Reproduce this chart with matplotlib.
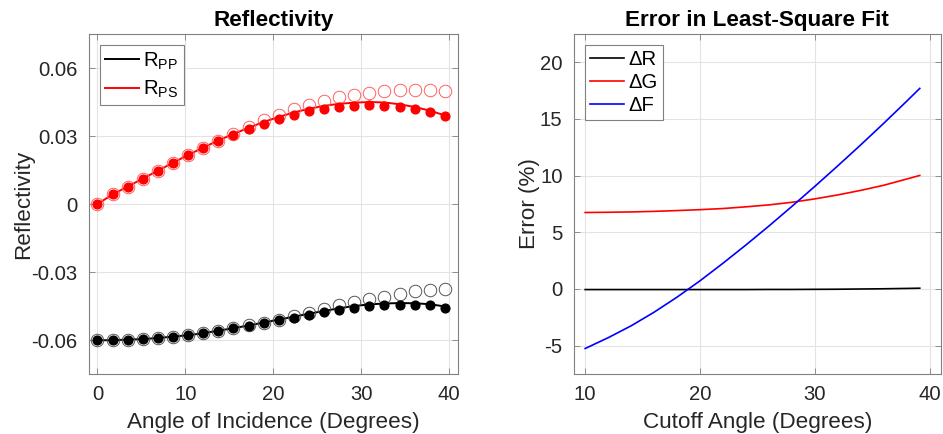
import matplotlib
matplotlib.use("Agg")
import matplotlib.pyplot as plt

plt.rcParams['font.family'] = ['Liberation Sans', 'DejaVu Sans']
plt.rcParams['axes.unicode_minus'] = False
plt.rcParams['mathtext.fontset'] = 'custom'
plt.rcParams['mathtext.rm'] = 'Liberation Sans'

# left panel: reflectivity vs angle of incidence
angle = [0, 1.72, 3.44, 5.16, 6.88, 8.59, 10.31, 12.03, 13.75, 15.47, 17.19, 18.91,
         20.63, 22.35, 24.06, 25.78, 27.50, 29.22, 30.94, 32.66, 34.38, 36.10, 37.82, 39.53]

rps_line = [0, 0.0042, 0.0077, 0.0112, 0.0147, 0.0182, 0.0216, 0.0249, 0.0280, 0.0309, 0.0336, 0.0362,
            0.0384, 0.0404, 0.0420, 0.0433, 0.0442, 0.0447, 0.0450, 0.0448, 0.0440, 0.0428, 0.0412, 0.0391]
rps_fit = [0, 0.0042, 0.0076, 0.0111, 0.0146, 0.0181, 0.0215, 0.0248, 0.0277, 0.0305, 0.0331, 0.0355,
           0.0375, 0.0394, 0.0409, 0.0421, 0.0428, 0.0434, 0.0435, 0.0432, 0.0426, 0.0418, 0.0406, 0.0388]
rps_approx = [0, 0.0042, 0.0077, 0.0112, 0.0147, 0.0182, 0.0216, 0.0249, 0.0280, 0.0311, 0.0340, 0.0369,
              0.0394, 0.0419, 0.0438, 0.0456, 0.0471, 0.0482, 0.0491, 0.0499, 0.0501, 0.0501, 0.0501, 0.0499]

rpp_line = [-0.0601, -0.0601, -0.0598, -0.0596, -0.0591, -0.0585, -0.0579, -0.0570, -0.0559, -0.0548, -0.0536, -0.0523,
            -0.0510, -0.0497, -0.0484, -0.0472, -0.0460, -0.0450, -0.0443, -0.0439, -0.0437, -0.0438, -0.0442, -0.0452]
rpp_fit = [-0.0601, -0.0601, -0.0598, -0.0596, -0.0591, -0.0585, -0.0579, -0.0570, -0.0559, -0.0548, -0.0537, -0.0525,
           -0.0513, -0.0501, -0.0488, -0.0477, -0.0466, -0.0457, -0.0452, -0.0447, -0.0444, -0.0444, -0.0447, -0.0457]
rpp_approx = [-0.0601, -0.0601, -0.0598, -0.0596, -0.0591, -0.0585, -0.0579, -0.0570, -0.0559, -0.0548, -0.0536, -0.0523,
              -0.0510, -0.0494, -0.0479, -0.0463, -0.0447, -0.0433, -0.0421, -0.0409, -0.0396, -0.0385, -0.0378, -0.0374]

refl_ticks = [-0.06, -0.03, 0, 0.03, 0.06]
refl_ticklabels = ['-0.06', '-0.03', '0', '0.03', '0.06']

# right panel: error vs cutoff angle
cutoff = [10, 12, 14, 16, 18, 20, 22, 24, 26, 28, 30, 32, 34, 36, 38, 39.15]
err_r = [-0.05, -0.05, -0.05, -0.05, -0.05, -0.05, -0.05, -0.05, -0.04, -0.04, -0.03, -0.02, 0.0, 0.02, 0.05, 0.07]
err_g = [6.75, 6.77, 6.80, 6.85, 6.92, 7.00, 7.10, 7.25, 7.42, 7.65, 7.95, 8.30, 8.70, 9.15, 9.70, 10.02]
err_f = [-5.25, -4.30, -3.25, -2.05, -0.72, 0.72, 2.27, 3.88, 5.55, 7.28, 9.05, 10.86, 12.71, 14.61, 16.56, 17.70]

W, H = 943, 434
fig = plt.figure(figsize=(W / 100, H / 100), dpi=100)

ax1 = fig.add_axes([88.7 / W, 1 - 374 / H, 369 / W, 340 / H])
ax2 = fig.add_axes([573.7 / W, 1 - 374 / H, 367.3 / W, 340 / H])

spine_c = '#808080'
text_c = '#262626'
tick_fs = 14.6
label_fs = 16.2


def style(ax):
    ax.grid(True, color='#e3e3e3', linewidth=0.8)
    ax.set_axisbelow(True)
    for s in ax.spines.values():
        s.set_color(spine_c)
        s.set_linewidth(0.8)
    ax.tick_params(direction='in', top=True, right=True, length=4, width=0.6,
                   color=spine_c, labelcolor=text_c, labelsize=tick_fs, pad=8)


def legend_box(ax, spacing):
    leg = ax.legend(loc='upper left', fontsize=tick_fs, frameon=True, fancybox=False,
                    handlelength=1.7, handletextpad=0.2, borderpad=0.25, labelspacing=spacing,
                    borderaxespad=0.55)
    leg.get_frame().set_edgecolor(spine_c)
    leg.get_frame().set_linewidth(0.8)
    leg.get_frame().set_alpha(1)
    return leg


# left
ax1.plot(angle, rpp_line, color='black', lw=1.4, label='R$_{\\mathrm{PP}}$', zorder=3)
ax1.plot(angle, rps_line, color='red', lw=1.4, label='R$_{\\mathrm{PS}}$', zorder=3)
ax1.plot(angle, rpp_approx, 'o', ms=9, mfc='none', mec='#555555', mew=0.7, zorder=4)
ax1.plot(angle, rps_approx, 'o', ms=9, mfc='none', mec='#ff6060', mew=0.7, zorder=4)
ax1.plot(angle, rpp_fit, 'o', ms=6.3, color='black', zorder=5)
ax1.plot(angle, rps_fit, 'o', ms=6.3, color='red', zorder=5)
ax1.set_xlim(-1, 41)
ax1.set_ylim(-0.075, 0.075)
ax1.set_xticks([0, 10, 20, 30, 40])
ax1.set_yticks(refl_ticks)
ax1.set_yticklabels(refl_ticklabels)
style(ax1)
ax1.set_title('Reflectivity', fontsize=label_fs, fontweight='bold', color='black', pad=6)
ax1.set_xlabel('Angle of Incidence (Degrees)', fontsize=label_fs, color=text_c, labelpad=6)
ax1.set_ylabel('Reflectivity', fontsize=label_fs, color=text_c, labelpad=-2)
legend_box(ax1, 0.35)

# right
ax2.plot(cutoff, err_r, color='black', lw=1.2, label='ΔR')
ax2.plot(cutoff, err_g, color='red', lw=1.2, label='ΔG')
ax2.plot(cutoff, err_f, color='blue', lw=1.2, label='ΔF')
ax2.set_xlim(9, 41)
ax2.set_ylim(-7.5, 22.5)
ax2.set_xticks([10, 20, 30, 40])
ax2.set_yticks([-5, 0, 5, 10, 15, 20])
style(ax2)
ax2.set_title('Error in Least-Square Fit', fontsize=label_fs, fontweight='bold', color='black', pad=6)
ax2.set_xlabel('Cutoff Angle (Degrees)', fontsize=label_fs, color=text_c, labelpad=6)
ax2.set_ylabel('Error (%)', fontsize=label_fs, color=text_c, labelpad=0)
legend_box(ax2, 0.2)

fig.savefig('out.png', dpi=100)
